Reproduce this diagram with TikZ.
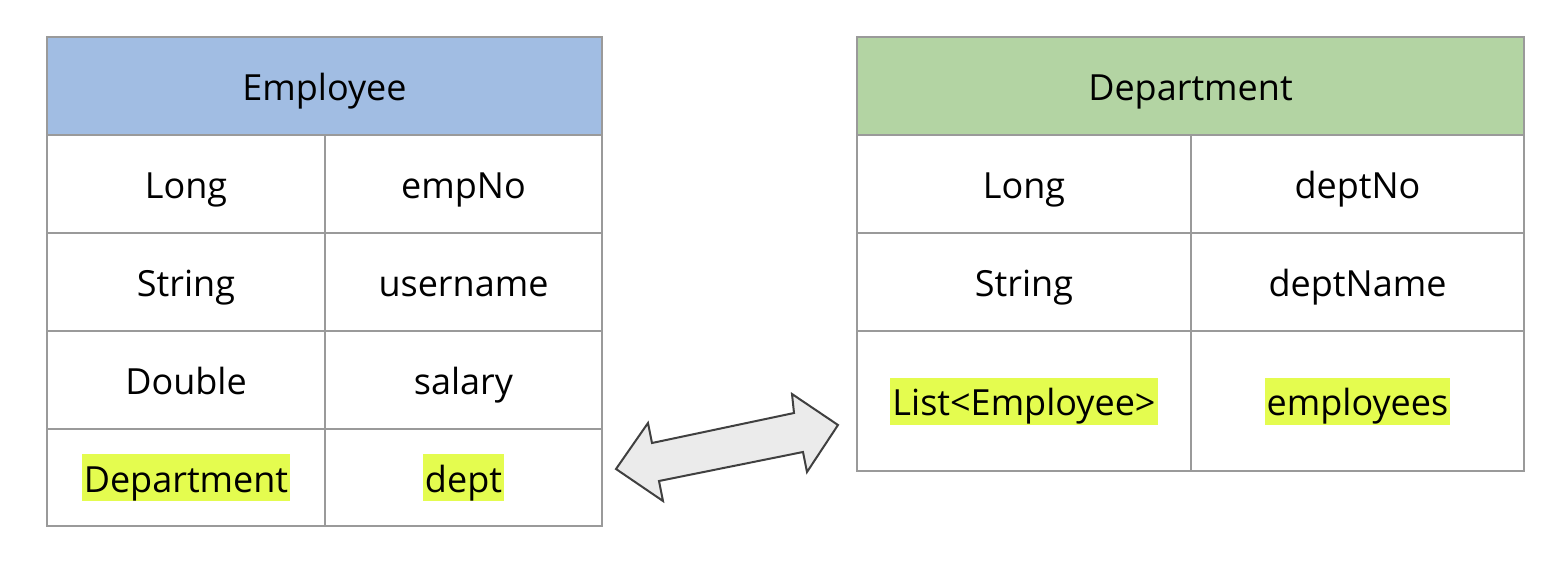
\documentclass[tikz,border=0pt]{standalone}
\usepackage{fontspec}
\setmainfont{Open Sans}
\definecolor{lc}{HTML}{9A9A9A}
\definecolor{hblue}{HTML}{A1BDE3}
\definecolor{hgreen}{HTML}{B3D4A3}
\definecolor{hly}{HTML}{E4FC4F}
\definecolor{arrfill}{HTML}{EBEBEB}
\definecolor{arrline}{HTML}{404040}
\newcommand\cellfont{\fontsize{36}{42}\selectfont}
\tikzset{
  cell/.style={draw=lc, line width=2pt, inner sep=0pt, anchor=north west, font=\cellfont, text height=38pt, text depth=9pt},
  hl/.style={fill=hly, inner xsep=2pt, inner ysep=0pt, text height=38pt, text depth=9pt, font=\cellfont},
  blockarrow/.style={fill=arrfill, draw=arrline, line width=2pt, line join=miter},
}
\begin{document}
\begin{tikzpicture}[x=1pt,y=-1pt]
\useasboundingbox (0,0) rectangle (1566,564);
% Employee table
\node[cell, fill=hblue, minimum width=555pt, minimum height=98pt] (eh) at (46,36) {Employee};
\node[cell, minimum width=278pt, minimum height=98pt] (e11) at (46,134) {Long};
\node[cell, minimum width=277pt, minimum height=98pt] (e12) at (324,134) {empNo};
\node[cell, minimum width=278pt, minimum height=98pt] (e21) at (46,232) {String};
\node[cell, minimum width=277pt, minimum height=98pt] (e22) at (324,232) {username};
\node[cell, minimum width=278pt, minimum height=98pt] (e31) at (46,330) {Double};
\node[cell, minimum width=277pt, minimum height=98pt] (e32) at (324,330) {salary};
\node[cell, minimum width=278pt, minimum height=97pt] (e41) at (46,428) {};
\node[cell, minimum width=277pt, minimum height=97pt] (e42) at (324,428) {};
\node[hl] (e41t) at (e41.center) {Department};
\node[hl] (e42t) at (e42.center) {dept};
% Department table
\node[cell, fill=hgreen, minimum width=667pt, minimum height=98pt] (dh) at (856,36) {Department};
\node[cell, minimum width=334pt, minimum height=98pt] (d11) at (856,134) {Long};
\node[cell, minimum width=333pt, minimum height=98pt] (d12) at (1190,134) {deptNo};
\node[cell, minimum width=334pt, minimum height=98pt] (d21) at (856,232) {String};
\node[cell, minimum width=333pt, minimum height=98pt] (d22) at (1190,232) {deptName};
\node[cell, minimum width=334pt, minimum height=140pt] (d31) at (856,330) {};
\node[cell, minimum width=333pt, minimum height=140pt] (d32) at (1190,330) {};
\node[hl] (d31t) at (d31.center) {List<Employee>};
\node[hl] (d32t) at (d32.center) {employees};
% double block arrow
\draw[blockarrow] (616,469) -- (648,423) -- (652,443) -- (794,413) -- (792,394)
  -- (838,425) -- (807,472) -- (803,452) -- (659,481) -- (663,501) -- cycle;
\end{tikzpicture}
\end{document}
